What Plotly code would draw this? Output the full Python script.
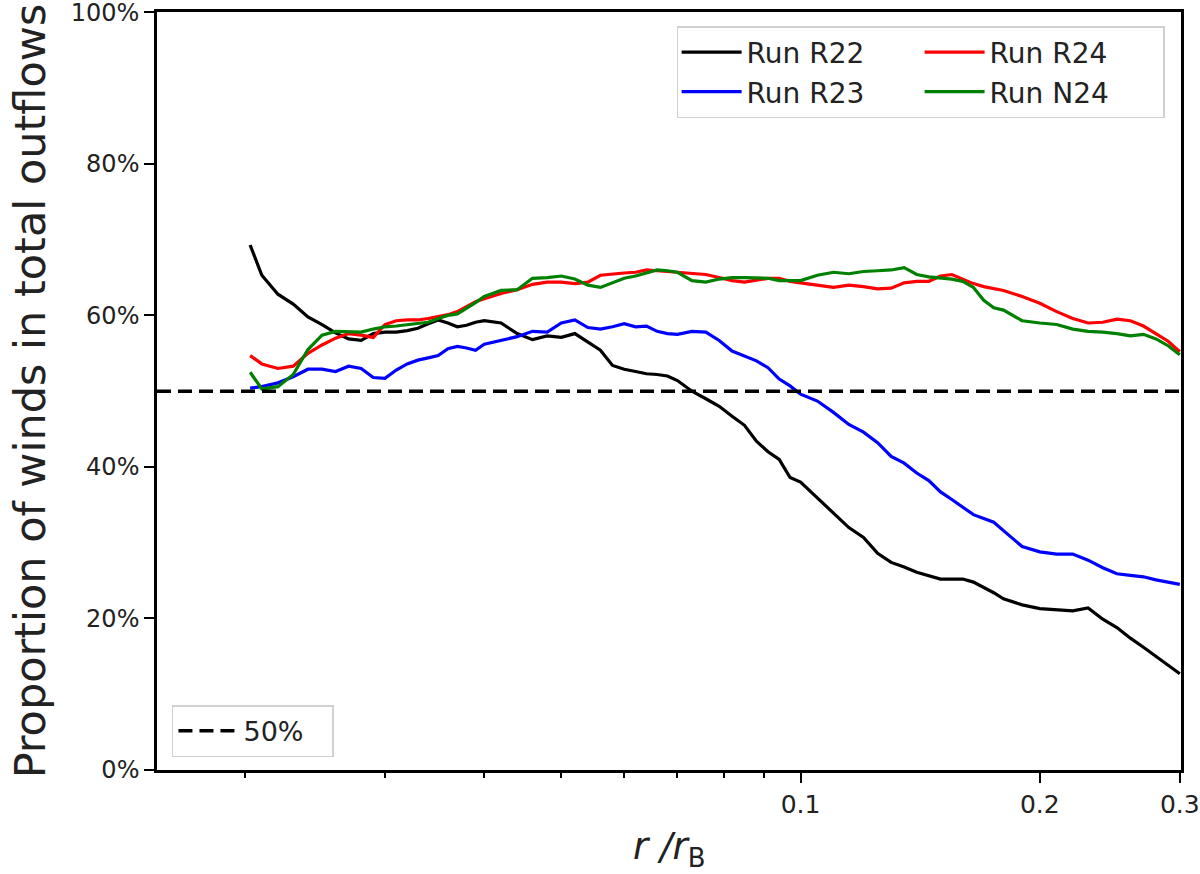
import numpy as np
import plotly.graph_objects as go

# radius r / r_B (shared sampling)
radius = [0.0203, 0.021, 0.022, 0.023, 0.024, 0.025, 0.026, 0.027, 0.028, 0.029,
          0.030, 0.031, 0.032, 0.033, 0.034, 0.035, 0.036, 0.037, 0.038, 0.039,
          0.040, 0.042, 0.044, 0.046, 0.048, 0.050, 0.052, 0.054, 0.056, 0.058,
          0.060, 0.062, 0.064, 0.066, 0.068, 0.070, 0.073, 0.076, 0.079, 0.082,
          0.085, 0.088, 0.091, 0.094, 0.097, 0.100, 0.105, 0.110, 0.115, 0.120,
          0.125, 0.130, 0.135, 0.140, 0.145, 0.150, 0.155, 0.160, 0.165, 0.170,
          0.175, 0.180, 0.190, 0.200, 0.210, 0.220, 0.230, 0.240, 0.250, 0.260,
          0.270, 0.280, 0.290, 0.300]

run_r22 = [69.3, 65.3, 62.8, 61.5, 59.8, 58.8, 57.7, 56.9, 56.7, 57.6,
           57.8, 57.8, 58.0, 58.3, 58.9, 59.4, 59.0, 58.5, 58.7, 59.1,
           59.3, 59.0, 57.6, 56.8, 57.3, 57.1, 57.6, 56.5, 55.4, 53.4,
           52.9, 52.6, 52.3, 52.2, 52.0, 51.4, 50.0, 49.0, 48.0, 46.7,
           45.5, 43.4, 42.0, 41.0, 38.6, 38.0, 35.9, 33.8, 32.0, 30.7,
           28.6, 27.4, 26.8, 26.1, 25.6, 25.2, 25.2, 25.2, 24.8, 24.1,
           23.4, 22.6, 21.8, 21.3, 21.1, 21.0, 21.4, 19.9, 18.8, 17.4,
           16.2, 15.0, 13.8, 12.7]

run_r23 = [50.4, 50.6, 51.1, 51.9, 52.9, 52.9, 52.6, 53.3, 53.0, 51.8,
           51.7, 52.8, 53.6, 54.1, 54.4, 54.7, 55.6, 55.9, 55.7, 55.4,
           56.2, 56.7, 57.2, 57.9, 57.8, 59.0, 59.4, 58.4, 58.2, 58.5,
           58.9, 58.5, 58.6, 57.9, 57.6, 57.5, 57.9, 57.8, 56.7, 55.3,
           54.6, 54.0, 53.1, 51.6, 50.7, 49.6, 48.7, 47.2, 45.6, 44.6,
           43.2, 41.4, 40.5, 39.2, 38.2, 36.7, 35.7, 34.7, 33.7, 33.2,
           32.7, 31.6, 29.5, 28.8, 28.5, 28.5, 27.7, 26.7, 25.9, 25.7,
           25.5, 25.1, 24.8, 24.5]

run_r24 = [54.7, 53.6, 53.0, 53.3, 55.0, 56.1, 57.0, 57.6, 57.4, 57.1,
           58.8, 59.3, 59.4, 59.4, 59.6, 59.8, 60.1, 60.5, 61.2, 61.8,
           62.2, 62.9, 63.4, 64.1, 64.4, 64.4, 64.2, 64.4, 65.3, 65.5,
           65.6, 65.7, 66.0, 65.9, 65.8, 65.7, 65.6, 65.4, 65.0, 64.6,
           64.4, 64.7, 64.9, 64.9, 64.5, 64.3, 64.0, 63.7, 64.0, 63.8,
           63.5, 63.6, 64.3, 64.5, 64.5, 65.2, 65.4, 64.8, 64.2, 63.8,
           63.5, 63.3, 62.5, 61.6, 60.5, 59.6, 59.0, 59.1, 59.5, 59.3,
           58.6, 57.6, 56.6, 55.2]

run_n24 = [52.5, 50.3, 50.6, 52.2, 55.5, 57.4, 57.9, 57.9, 57.8, 58.2,
           58.5, 58.6, 58.8, 59.0, 59.1, 59.6, 60.0, 60.2, 60.9, 61.7,
           62.5, 63.3, 63.4, 64.9, 65.0, 65.2, 64.8, 64.0, 63.7, 64.3,
           64.9, 65.2, 65.6, 66.0, 65.9, 65.7, 64.6, 64.4, 64.8, 65.0,
           65.0, 65.0, 64.9, 64.6, 64.6, 64.6, 65.3, 65.7, 65.5, 65.8,
           65.9, 66.0, 66.3, 65.4, 65.1, 65.0, 64.8, 64.5, 63.7, 62.0,
           61.0, 60.7, 59.3, 59.0, 58.8, 58.2, 57.9, 57.8, 57.6, 57.3,
           57.5, 56.9, 56.0, 54.8]

x_limits = [0.0155, 0.3]
reference_level = 50
major_ticks = [0.1, 0.2, 0.3]
major_labels = ["0.1", "0.2", "0.3"]
minor_ticks = [0.02, 0.03, 0.04, 0.05, 0.06, 0.07, 0.08, 0.09]
y_ticks = [0, 20, 40, 60, 80, 100]
y_labels = ["0%", "20%", "40%", "60%", "80%", "100%"]

FONT = "DejaVu Sans"

fig = go.Figure()

series = [
    ("Run R22", run_r22, "black", "g1"),
    ("Run R23", run_r23, "#0000ff", "g1"),
    ("Run R24", run_r24, "#ff0000", "g2"),
    ("Run N24", run_n24, "#008000", "g2"),
]
for name, vals, col, grp in series:
    fig.add_trace(go.Scatter(
        x=radius, y=vals, mode="lines", name=name,
        line=dict(color=col, width=3.2),
        legendgroup=grp, legend="legend",
    ))

fig.add_trace(go.Scatter(
    x=x_limits, y=[reference_level, reference_level], mode="lines",
    name="50%", line=dict(color="black", width=3.5, dash="14px,7px"),
    legend="legend2",
))

fig.update_layout(
    width=1200, height=874,
    margin=dict(l=157, r=19, t=12, b=104, autoexpand=False),
    paper_bgcolor="white", plot_bgcolor="white",
    font=dict(family=FONT, color="black", size=25),
    legend=dict(
        orientation="h", x=0.984, xanchor="right", y=0.9815, yanchor="top",
        bgcolor="rgba(255,255,255,0.85)", bordercolor="#d0d0d0", borderwidth=1.5,
        font=dict(family=FONT, size=28, color="#222"),
        tracegroupgap=0, itemwidth=60, entrywidth=168,
    ),
    legend2=dict(
        orientation="h",
        x=0.0146, xanchor="left", y=0.017, yanchor="bottom",
        bgcolor="rgba(255,255,255,0.85)", bordercolor="#d0d0d0", borderwidth=1.5,
        font=dict(family=FONT, size=27, color="#222"),
        itemwidth=60, entrywidth=84,
    ),
    xaxis=dict(
        type="log", range=[np.log10(x_limits[0]), np.log10(x_limits[1]) + 0.0015],
        tickmode="array", tickvals=major_ticks, ticktext=major_labels,
        ticks="outside", ticklen=10, tickwidth=2, tickcolor="black",
        showline=True, linecolor="black", linewidth=2.5, mirror=True,
        showgrid=False, zeroline=False, automargin=True,
        ticklabeloverflow="allow",
        tickfont=dict(family=FONT, size=25, color="#222"),
        minor=dict(tickmode="array", tickvals=minor_ticks, ticks="outside",
                   ticklen=5, tickwidth=1.5, tickcolor="black", showgrid=False),
    ),
    yaxis=dict(
        range=[0, 100.05], tickmode="array", tickvals=y_ticks, ticktext=y_labels,
        ticks="outside", ticklen=10, tickwidth=2, tickcolor="black",
        showline=True, linecolor="black", linewidth=2.5, mirror=True,
        showgrid=False, zeroline=False, automargin=True,
        ticklabeloverflow="allow",
        tickfont=dict(family=FONT, size=24, color="#222"),
        title=dict(text="Proportion of winds in total outflows",
                   font=dict(family=FONT, size=43, color="#222"), standoff=12),
    ),
    annotations=[dict(
        text="<i>r</i> <i>/r</i><sub>B</sub>", xref="paper", yref="paper",
        x=0.5, y=-0.104, xanchor="center", yanchor="middle", showarrow=False,
        font=dict(family=FONT, size=37, color="#222"),
    )],
)

fig.write_html("out.html")
